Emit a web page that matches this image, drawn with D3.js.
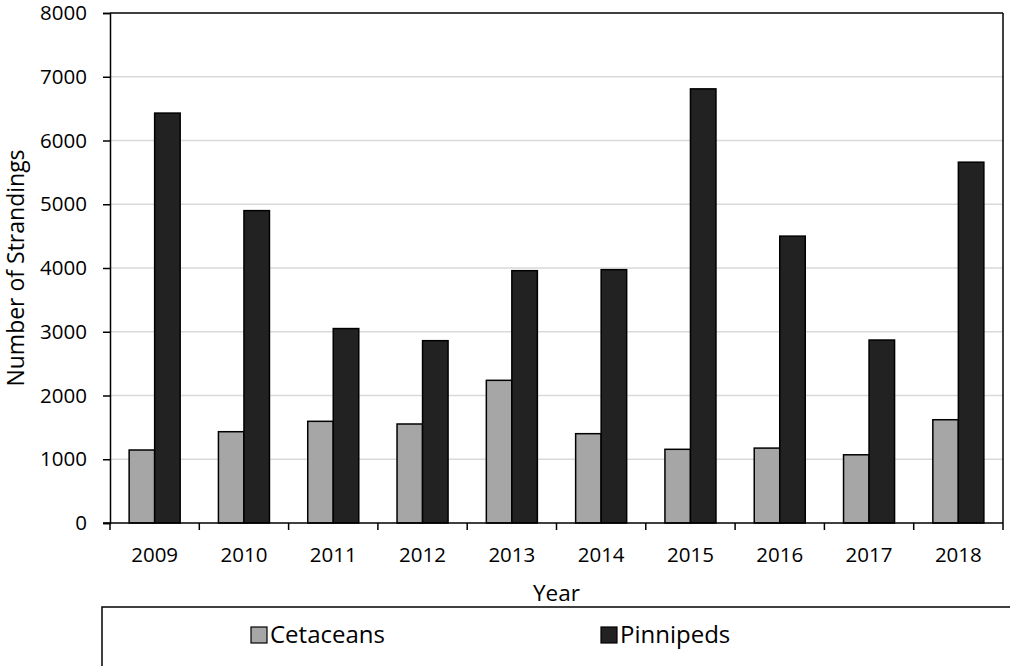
<!DOCTYPE html>
<html>
<head>
<meta charset="utf-8">
<script src="https://cdn.jsdelivr.net/npm/d3@7"></script>
<style>
  body { margin: 0; background: #fff; }
  text { font-family: "Open Sans", "Liberation Sans", sans-serif; }
</style>
</head>
<body>
<svg id="chart" width="1010" height="666"></svg>
<script>
// Data
const years = ["2009", "2010", "2011", "2012", "2013", "2014", "2015", "2016", "2017", "2018"];
const cetaceans = [1145, 1432, 1595, 1553, 2238, 1401, 1156, 1175, 1070, 1620];
const pinnipeds = [6430, 4900, 3050, 2860, 3958, 3974, 6810, 4500, 2870, 5660];
const seriesNames = ["Cetaceans", "Pinnipeds"];
const yTicks = [0, 1000, 2000, 3000, 4000, 5000, 6000, 7000, 8000];

const colors = ["#a6a6a6", "#222222"];

const margin = {top: 13, right: 7, bottom: 143, left: 110},
    width = 1010 - margin.left - margin.right,
    height = 666 - margin.top - margin.bottom;

const svg = d3.select("#chart");
const g = svg.append("g")
    .attr("transform", `translate(${margin.left}, ${margin.top})`);

// Scales
const x = d3.scaleBand()
    .domain(years)
    .range([0, width]);

const y = d3.scaleLinear()
    .domain([0, 8000])
    .range([height, 0]);

// Bar width follows a 150% gap between groups
const barW = x.bandwidth() / 3.5;
const x1 = d3.scaleBand()
    .domain(seriesNames)
    .range([x.bandwidth() / 2 - barW, x.bandwidth() / 2 + barW]);

// Gridlines
g.append("g")
    .selectAll("line")
    .data(yTicks.filter(d => d > 0 && d < 8000))
    .enter()
    .append("line")
    .attr("x1", 0)
    .attr("x2", width)
    .attr("y1", d => y(d))
    .attr("y2", d => y(d))
    .attr("stroke", "#d9d9d9")
    .attr("stroke-width", 1.5);

// Bars
const rows = years.map((yr, i) => ({year: yr, values: [cetaceans[i], pinnipeds[i]]}));
const groups = g.selectAll(".grp")
    .data(rows)
    .enter()
    .append("g")
    .attr("transform", d => `translate(${x(d.year)}, 0)`);

groups.selectAll("rect")
    .data(d => d.values.map((v, k) => ({name: seriesNames[k], value: v, k: k})))
    .enter()
    .append("rect")
    .attr("x", d => x1(d.name))
    .attr("y", d => y(d.value))
    .attr("width", x1.bandwidth())
    .attr("height", d => height - y(d.value))
    .attr("fill", d => colors[d.k])
    .attr("stroke", "#000")
    .attr("stroke-width", 1.5);

// Plot frame top and right
g.append("line")
    .attr("x1", 0).attr("x2", width).attr("y1", 0).attr("y2", 0)
    .attr("stroke", "#000").attr("stroke-width", 1.5);
g.append("line")
    .attr("x1", width).attr("x2", width).attr("y1", 0).attr("y2", height)
    .attr("stroke", "#000").attr("stroke-width", 1.5);

// Y axis
const yAxis = g.append("g")
    .call(d3.axisLeft(y).tickValues(yTicks).tickSize(7).tickPadding(16).tickFormat(d3.format("d")));
yAxis.select(".domain").attr("stroke-width", 1.5);
yAxis.selectAll(".tick line").attr("stroke-width", 1.5);
yAxis.selectAll("text")
    .style("font-family", "'Open Sans', sans-serif")
    .style("font-size", "20.5px")
    .attr("fill", "#000");

// X axis with ticks between categories
const xAxis = g.append("g")
    .attr("transform", `translate(0, ${height})`);
xAxis.append("line")
    .attr("x1", -7).attr("x2", width).attr("y1", 0).attr("y2", 0)
    .attr("stroke", "#000").attr("stroke-width", 1.5);
xAxis.selectAll(".xt")
    .data(years.concat(["end"]))
    .enter()
    .append("line")
    .attr("x1", (d, i) => i * x.step())
    .attr("x2", (d, i) => i * x.step())
    .attr("y1", 0)
    .attr("y2", 7)
    .attr("stroke", "#000")
    .attr("stroke-width", 1.5);
xAxis.selectAll(".xl")
    .data(years)
    .enter()
    .append("text")
    .attr("x", d => x(d) + x.bandwidth() / 2)
    .attr("y", 39)
    .attr("text-anchor", "middle")
    .style("font-size", "20.5px")
    .text(d => d);

// Axis titles
svg.append("text")
    .attr("x", margin.left + width / 2)
    .attr("y", 601)
    .attr("text-anchor", "middle")
    .style("font-size", "22.5px")
    .text("Year");

svg.append("text")
    .attr("transform", `translate(24, ${margin.top + height / 2}) rotate(-90)`)
    .attr("text-anchor", "middle")
    .style("font-size", "23px")
    .text("Number of Strandings");

// Legend box
svg.append("rect")
    .attr("x", 102)
    .attr("y", 607)
    .attr("width", 1000)
    .attr("height", 100)
    .attr("fill", "none")
    .attr("stroke", "#000")
    .attr("stroke-width", 1.5);

const legendX = [251, 601];
const legend = svg.selectAll(".leg")
    .data(seriesNames)
    .enter()
    .append("g")
    .attr("transform", (d, i) => `translate(${legendX[i]}, 627)`);
legend.append("rect")
    .attr("width", 16)
    .attr("height", 16)
    .attr("fill", (d, i) => colors[i])
    .attr("stroke", "#000")
    .attr("stroke-width", 1.2);
legend.append("text")
    .attr("x", 19)
    .attr("y", 16)
    .style("font-size", "24px")
    .text(d => d);
</script>
</body>
</html>
